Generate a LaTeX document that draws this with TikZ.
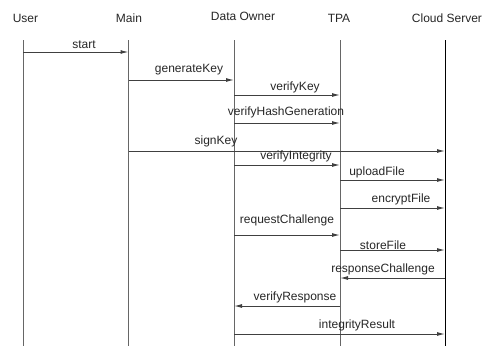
\documentclass[tikz,border=0pt]{standalone}
\usepackage{fontspec}
\setmainfont{Liberation Sans}
\usetikzlibrary{arrows.meta, positioning, calc}

\begin{document}
\begin{tikzpicture}[x=1pt, y=-1pt, >={Latex[length=8pt,width=4pt]},
    font=\fontsize{12}{14}\selectfont,
    life/.style={draw=black!60, line width=1pt},
    msg/.style={draw=black!75, line width=1pt, ->},
    lbl/.style={inner sep=0pt, text=black!85}]

\useasboundingbox (0,0) rectangle (485,346);

% ---- Lifelines --------------------------------------------------------
\node[lbl] (hUser)  at (25.5,18) {User};
\node[lbl] (hMain)  at (129,18)  {Main};
\node[lbl] (hOwner) at (243,16)  {Data Owner};
\node[lbl] (hTpa)   at (339,18)  {TPA};
\node[lbl] (hCloud) at (447,18)  {Cloud Server};

\foreach \n/\x in {user/23, main/128.5, owner/234, tpa/340}{
  \coordinate (\n) at (\x,40);
  \coordinate (\n End) at (\x,346);
  \draw[life] (\n) -- (\n End);
}
\coordinate (cloud) at (445,40);
\coordinate (cloudEnd) at (445,346);
\draw[line width=1pt, black] (cloud) -- (cloudEnd);

% ---- Messages ---------------------------------------------------------
\draw[msg] (user |- 0,52) -- (main |- 0,52);
\node[lbl] (lStart) at (84,45) {start};

\draw[msg] (main |- 0,80) -- (owner |- 0,80);
\node[lbl] (lGen) at (189,70) {generateKey};

\draw[msg] (owner |- 0,95) -- (tpa |- 0,95);
\node[lbl] (lVerKey) at (295,87) {verifyKey};

\draw[msg] (owner |- 0,123) -- (tpa |- 0,123);
\node[lbl] (lHash) at (286,112) {verifyHashGeneration};

\draw[msg] (main |- 0,151) -- (cloud |- 0,151);
\node[lbl] (lSign) at (216,141) {signKey};

\draw[msg] (owner |- 0,165) -- (tpa |- 0,165);
\node[lbl] (lInteg) at (296,156) {verifyIntegrity};

\draw[msg] (tpa |- 0,180) -- (cloud |- 0,180);
\node[lbl] (lUpload) at (377,172) {uploadFile};

\draw[msg] (tpa |- 0,208) -- (cloud |- 0,208);
\node[lbl] (lEncrypt) at (401,199) {encryptFile};

\draw[msg] (owner |- 0,235) -- (tpa |- 0,235);
\node[lbl] (lRequest) at (287,220) {requestChallenge};

\draw[msg] (tpa |- 0,250) -- (cloud |- 0,250);
\node[lbl] (lStore) at (383,245) {storeFile};

\draw[msg] (cloud |- 0,278) -- (tpa |- 0,278);
\node[lbl] (lResponse) at (383,269) {responseChallenge};

\draw[msg] (tpa |- 0,306) -- (owner |- 0,306);
\node[lbl] (lVerResp) at (295,297) {verifyResponse};

\draw[msg] (owner |- 0,334) -- (cloud |- 0,334);
\node[lbl] (lResult) at (357,325) {integrityResult};

\end{tikzpicture}
\end{document}
